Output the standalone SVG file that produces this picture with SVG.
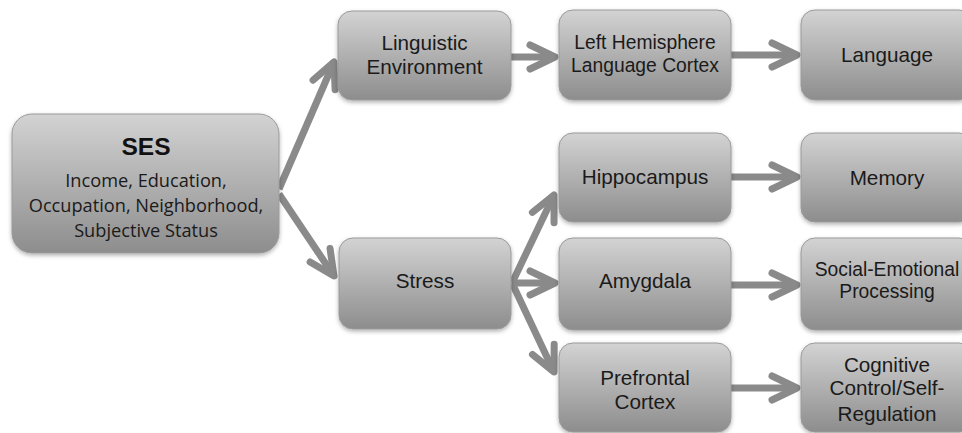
<svg xmlns="http://www.w3.org/2000/svg" width="962" height="433" viewBox="0 0 962 433">
<defs>
<linearGradient id="g" x1="0" y1="0" x2="0" y2="1">
<stop offset="0" stop-color="#d3d3d3"/>
<stop offset="1" stop-color="#8d8d8d"/>
</linearGradient>
<filter id="sh" x="-10%" y="-10%" width="120%" height="130%">
<feDropShadow dx="0" dy="2" stdDeviation="2" flood-color="#000" flood-opacity="0.3"/>
</filter>
<marker id="ah" markerUnits="userSpaceOnUse" markerWidth="40" markerHeight="40" viewBox="-34 -20 40 40" refX="0" refY="0" orient="auto">
<path d="M -25 -12 L 0 0 L -25 12" fill="none" stroke="#8a8a8a" stroke-width="7" stroke-linecap="round" stroke-linejoin="round"/>
</marker>
<style>
.box{fill:url(#g);stroke:#9a9a9a;stroke-width:1;filter:url(#sh)}
.t{font-family:"Liberation Sans",Arial,sans-serif;font-size:20.7px;fill:#1a1a1a;text-anchor:middle}
.s{font-size:19.3px}
.b{font-family:"Open Sans","Noto Sans",sans-serif;font-size:18.2px;fill:#1a1a1a;text-anchor:middle}
.h{font-family:"Liberation Sans",Arial,sans-serif;font-size:24.5px;font-weight:bold;fill:#111;text-anchor:middle}
.c{fill:none;stroke:#8a8a8a;stroke-width:7;marker-end:url(#ah)}
</style>
</defs>
<rect width="962" height="433" fill="#fff"/>
<g id="connectors">
<path class="c" d="M 279 189 L 334 62"/>
<path class="c" d="M 279 194 L 334 276"/>
<path class="c" d="M 511 57 L 555 57"/>
<path class="c" d="M 731 55 L 797 55"/>
<path class="c" d="M 512 283 L 554 195"/>
<path class="c" d="M 512 283 L 555 283"/>
<path class="c" d="M 512 283 L 554 372"/>
<path class="c" d="M 731 177 L 797 177"/>
<path class="c" d="M 731 285 L 797 285"/>
<path class="c" d="M 731 388 L 797 388"/>
</g>
<g id="ses">
<rect class="box" x="12" y="114" width="267" height="139" rx="20"/>
<text class="h" x="146" y="155">SES</text>
<text class="b" x="146" y="187">Income, Education,</text>
<text class="b" x="146" y="212">Occupation, Neighborhood,</text>
<text class="b" x="146" y="237">Subjective Status</text>
</g>
<g id="linguistic">
<rect class="box" x="338" y="11" width="173" height="89" rx="14"/>
<text class="t" x="424.5" y="50">Linguistic</text>
<text class="t" x="424.5" y="74">Environment</text>
</g>
<g id="lefthemisphere">
<rect class="box" x="559" y="10" width="172" height="90" rx="14"/>
<text class="t s" x="645" y="49">Left Hemisphere</text>
<text class="t s" x="645" y="72">Language Cortex</text>
</g>
<g id="language">
<rect class="box" x="801" y="10" width="172" height="90" rx="14"/>
<text class="t" x="887" y="62">Language</text>
</g>
<g id="stress">
<rect class="box" x="339" y="238" width="172" height="91" rx="14"/>
<text class="t" x="425" y="288">Stress</text>
</g>
<g id="hippocampus">
<rect class="box" x="559" y="133" width="172" height="89" rx="14"/>
<text class="t" x="645" y="184">Hippocampus</text>
</g>
<g id="memory">
<rect class="box" x="801" y="133" width="172" height="89" rx="14"/>
<text class="t" x="887" y="185">Memory</text>
</g>
<g id="amygdala">
<rect class="box" x="559" y="238" width="172" height="92" rx="14"/>
<text class="t" x="645" y="288">Amygdala</text>
</g>
<g id="socialemotional">
<rect class="box" x="801" y="238" width="172" height="92" rx="14"/>
<text class="t s" x="887" y="276">Social-Emotional</text>
<text class="t s" x="887" y="298">Processing</text>
</g>
<g id="prefrontal">
<rect class="box" x="559" y="343" width="172" height="89" rx="14"/>
<text class="t" x="645" y="385">Prefrontal</text>
<text class="t" x="645" y="409">Cortex</text>
</g>
<g id="cognitive">
<rect class="box" x="801" y="343" width="172" height="89" rx="14"/>
<text class="t" x="887" y="372">Cognitive</text>
<text class="t" x="887" y="395">Control/Self-</text>
<text class="t" x="887" y="421">Regulation</text>
</g>
</svg>
